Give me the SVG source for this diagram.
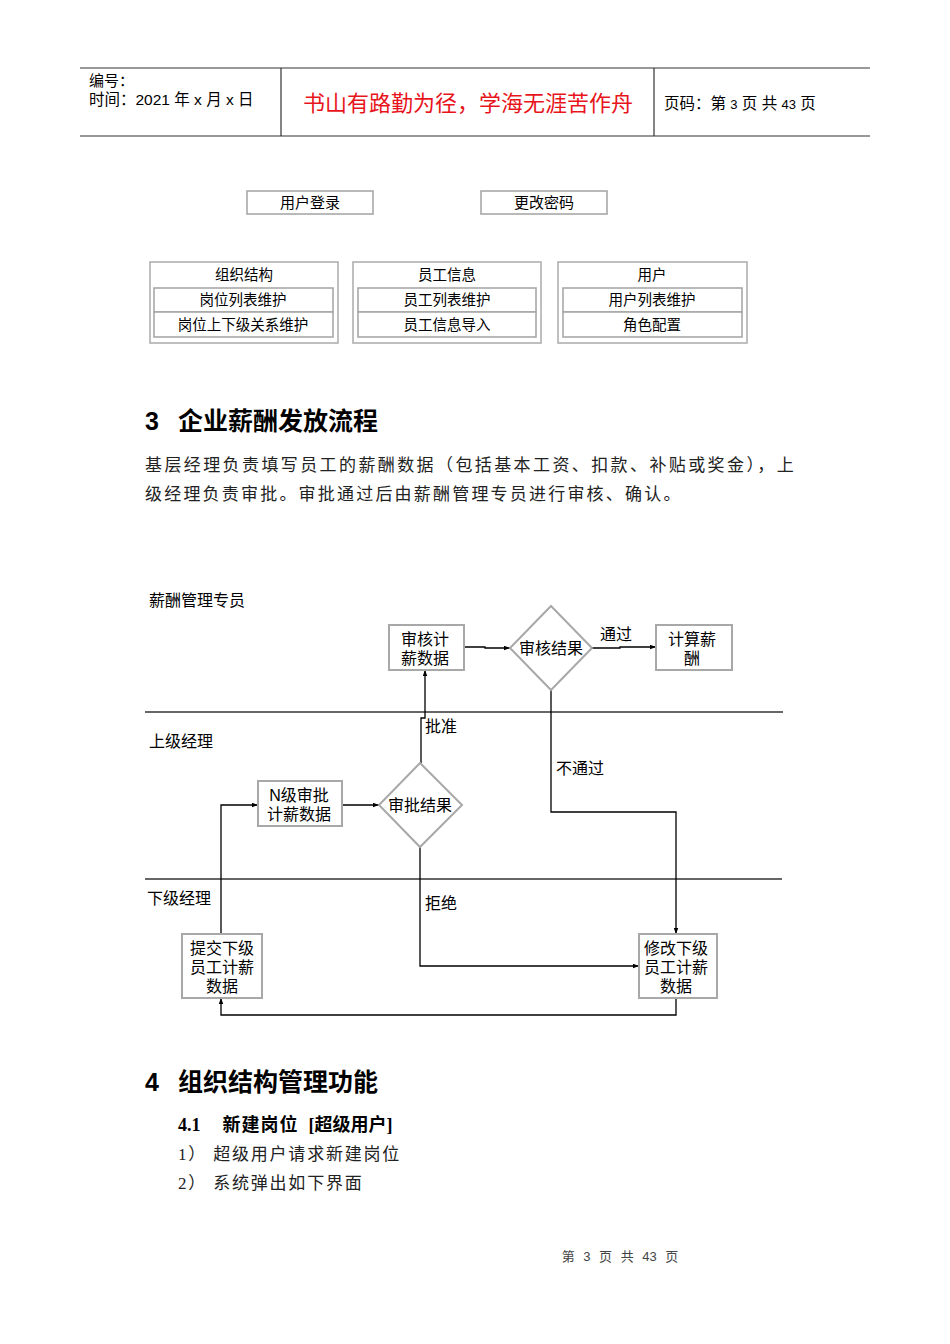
<svg xmlns="http://www.w3.org/2000/svg" width="950" height="1344" viewBox="0 0 950 1344">
<defs>
<style>
.t{font-family:"Liberation Sans","Noto Sans CJK SC",sans-serif;fill:#000}
.s{font-family:"Liberation Serif","Noto Sans CJK SC",serif;fill:#000}
.box{fill:#fff;stroke:#a8a8a8;stroke-width:1.6}
.gbox{fill:#fff;stroke:#b0b0b0;stroke-width:1.6}
.node{fill:#fff;stroke:#a8a8a8;stroke-width:2}
.ln{fill:none;stroke:#000;stroke-width:1.3}
.lane{stroke:#333;stroke-width:1.3}
.hd{stroke:#333;stroke-width:1.2}
.n{font-size:16px}
</style>
<marker id="ar" viewBox="0 0 8 6" refX="8" refY="3" markerWidth="6" markerHeight="5" orient="auto" markerUnits="userSpaceOnUse">
<path d="M0,0 L8,3 L0,6 z" fill="#000"/>
</marker>
</defs>
<rect width="950" height="1344" fill="#fff"/>

<g id="header">
<line class="hd" x1="80" y1="68" x2="870" y2="68"/>
<line class="hd" x1="80" y1="136" x2="870" y2="136"/>
<line class="hd" x1="281" y1="68" x2="281" y2="136"/>
<line class="hd" x1="654" y1="68" x2="654" y2="136"/>
<text class="t" x="89" y="86" font-size="15">编号：</text>
<text class="t" x="89" y="105" font-size="15.5">时间：2021 年 x 月 x 日</text>
<text class="t" x="468" y="111" font-size="22" text-anchor="middle" style="fill:#e8141b">书山有路勤为径，学海无涯苦作舟</text>
<text class="t" x="664" y="109" font-size="15.5">页码：第 <tspan font-size="13">3</tspan> 页  共 <tspan font-size="13">43</tspan> 页</text>
</g>

<g id="login">
<rect class="box" x="247" y="191" width="126" height="23"/>
<text class="t" x="310" y="208" font-size="15" text-anchor="middle">用户登录</text>
</g>
<g id="changepwd">
<rect class="box" x="481" y="191" width="126" height="23"/>
<text class="t" x="544" y="208" font-size="15" text-anchor="middle">更改密码</text>
</g>

<g id="org">
<rect class="gbox" x="150" y="262" width="188" height="81"/>
<text class="t" x="244" y="280" font-size="14.5" text-anchor="middle">组织结构</text>
<rect class="box" x="154" y="288" width="179" height="24"/>
<text class="t" x="243" y="305" font-size="14.5" text-anchor="middle">岗位列表维护</text>
<rect class="box" x="154" y="312" width="179" height="25"/>
<text class="t" x="243" y="330" font-size="14.5" text-anchor="middle">岗位上下级关系维护</text>
</g>
<g id="emp">
<rect class="gbox" x="353" y="262" width="188" height="81"/>
<text class="t" x="447" y="280" font-size="14.5" text-anchor="middle">员工信息</text>
<rect class="box" x="358" y="288" width="178" height="24"/>
<text class="t" x="447" y="305" font-size="14.5" text-anchor="middle">员工列表维护</text>
<rect class="box" x="358" y="312" width="178" height="25"/>
<text class="t" x="447" y="330" font-size="14.5" text-anchor="middle">员工信息导入</text>
</g>
<g id="user">
<rect class="gbox" x="558" y="262" width="189" height="81"/>
<text class="t" x="652" y="280" font-size="14.5" text-anchor="middle">用户</text>
<rect class="box" x="563" y="288" width="179" height="24"/>
<text class="t" x="652" y="305" font-size="14.5" text-anchor="middle">用户列表维护</text>
<rect class="box" x="563" y="312" width="179" height="25"/>
<text class="t" x="652" y="330" font-size="14.5" text-anchor="middle">角色配置</text>
</g>

<g id="sec3">
<text class="t" x="145" y="430" font-size="25" font-weight="bold">3<tspan dx="19">企业薪酬发放流程</tspan></text>
<text class="s" x="145" y="471" font-size="17" letter-spacing="2.4" style="fill:#222">基层经理负责填写员工的薪酬数据（包括基本工资、扣款、补贴或奖金），上</text>
<text class="s" x="145" y="500" font-size="17" letter-spacing="2.2" style="fill:#222">级经理负责审批。审批通过后由薪酬管理专员进行审核、确认。</text>
</g>

<g id="lanes">
<line class="lane" x1="145" y1="712" x2="783" y2="712"/>
<line class="lane" x1="145" y1="879" x2="782" y2="879"/>
<text class="t n" x="149" y="606">薪酬管理专员</text>
<text class="t n" x="149" y="747">上级经理</text>
<text class="t n" x="147" y="904">下级经理</text>
</g>

<g id="connectors">
<polyline class="ln" points="464,647 485,647 485,648 510,648" marker-end="url(#ar)"/>
<polyline class="ln" points="592,648 620,648 620,647 656,647" marker-end="url(#ar)"/>
<polyline class="ln" points="421,763 421,718 425,718 425,670" marker-end="url(#ar)"/>
<polyline class="ln" points="551,690 551,812 676,812 676,934" marker-end="url(#ar)"/>
<polyline class="ln" points="420,847 420,966 639,966" marker-end="url(#ar)"/>
<polyline class="ln" points="676,998 676,1015 221,1015 221,998" marker-end="url(#ar)"/>
<polyline class="ln" points="221,934 221,805 258,805" marker-end="url(#ar)"/>
<line class="ln" x1="342" y1="805" x2="379" y2="805" marker-end="url(#ar)"/>
<text class="t n" x="600" y="640">通过</text>
<text class="t n" x="425" y="732">批准</text>
<text class="t n" x="556" y="774">不通过</text>
<text class="t n" x="425" y="909">拒绝</text>
</g>

<g id="n_audit">
<rect class="node" x="389" y="625" width="75" height="45"/>
<text class="t n" x="425" y="645" text-anchor="middle">审核计</text>
<text class="t n" x="425" y="664" text-anchor="middle">薪数据</text>
</g>
<g id="d_auditresult">
<polygon class="node" points="551,606 592,648 551,690 510,648"/>
<text class="t n" x="551" y="654" text-anchor="middle">审核结果</text>
</g>
<g id="n_calc">
<rect class="node" x="656" y="625" width="76" height="45"/>
<text class="t n" x="692" y="645" text-anchor="middle">计算薪</text>
<text class="t n" x="692" y="664" text-anchor="middle">酬</text>
</g>
<g id="n_napprove">
<rect class="node" x="258" y="781" width="84" height="45"/>
<text class="t n" x="299" y="801" text-anchor="middle">N级审批</text>
<text class="t n" x="299" y="820" text-anchor="middle">计薪数据</text>
</g>
<g id="d_approveresult">
<polygon class="node" points="420,763 462,805 420,847 379,805"/>
<text class="t n" x="420" y="811" text-anchor="middle">审批结果</text>
</g>
<g id="n_submit">
<rect class="node" x="182" y="934" width="80" height="64"/>
<text class="t n" x="222" y="954" text-anchor="middle">提交下级</text>
<text class="t n" x="222" y="973" text-anchor="middle">员工计薪</text>
<text class="t n" x="222" y="992" text-anchor="middle">数据</text>
</g>
<g id="n_modify">
<rect class="node" x="639" y="934" width="78" height="64"/>
<text class="t n" x="676" y="954" text-anchor="middle">修改下级</text>
<text class="t n" x="676" y="973" text-anchor="middle">员工计薪</text>
<text class="t n" x="676" y="992" text-anchor="middle">数据</text>
</g>

<g id="sec4">
<text class="t" x="145" y="1091" font-size="25" font-weight="bold">4<tspan dx="19">组织结构管理功能</tspan></text>
<text class="s" x="178" y="1131" font-size="18" font-weight="bold">4.1<tspan dx="22" letter-spacing="1">新建岗位</tspan><tspan dx="10">[超级用户]</tspan></text>
<text class="s" x="178" y="1160" font-size="17" letter-spacing="1.8" style="fill:#222">1） 超级用户请求新建岗位</text>
<text class="s" x="178" y="1189" font-size="17" letter-spacing="1.8" style="fill:#222">2） 系统弹出如下界面</text>
</g>

<g id="footer">
<text class="t" x="620" y="1261" font-size="13" text-anchor="middle" word-spacing="5" style="fill:#444">第 3 页 共 43 页</text>
</g>
</svg>
